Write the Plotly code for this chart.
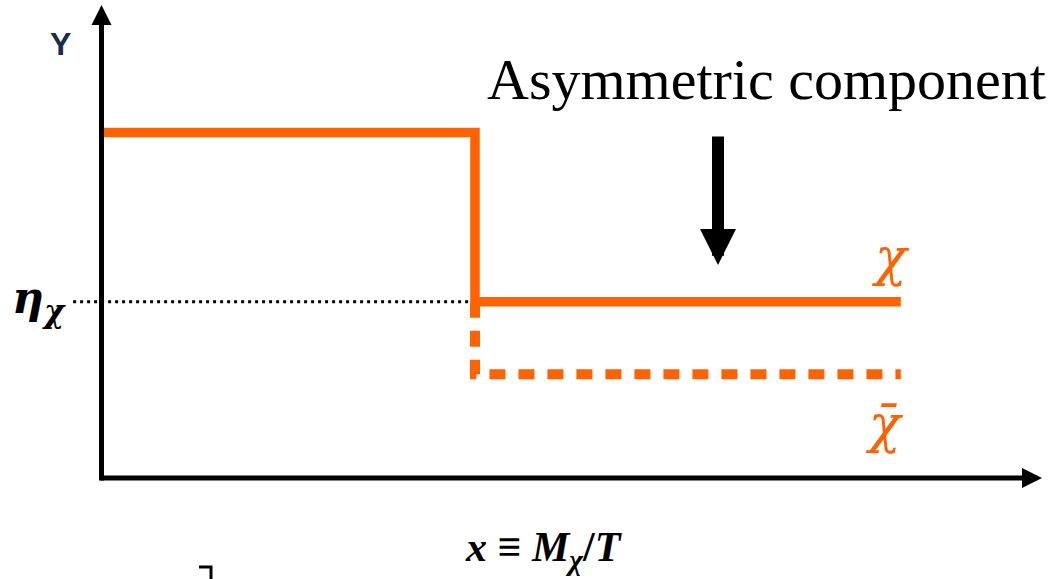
import plotly.graph_objects as go

# Step profile of the yield: particle (solid) and antiparticle (dashed)
x_start = 0.0
x_freeze = 1.0
x_end = 2.14
y_initial = 1.0
eta_chi = 0.51
y_bar = 0.30

chi_x = [x_start, x_freeze, x_freeze, x_end]
chi_y = [y_initial, y_initial, eta_chi, eta_chi]
chibar_x = [x_freeze, x_freeze, x_end]
chibar_y = [eta_chi, y_bar, y_bar]
ref_x = [-0.076, 0.99]
ref_y = [eta_chi, eta_chi]

W, H = 1064, 579
ORANGE = "#FF6200"
SERIF = "Liberation Serif"
GREEK = "DejaVu Serif"

# axis scale: origin at (101.5, 478) px, 373.5 px per x-unit, 345.5 px per y-unit
x0_px, sx = 101.5, 373.5
y0_px, sy = 478.0, 345.5
x_range = [-x0_px / sx, (W - x0_px) / sx]
y_range = [-(H - y0_px) / sy, y0_px / sy]


def px(x, y):
    return x / W, 1 - y / H


fig = go.Figure()
fig.add_trace(go.Scatter(x=ref_x, y=ref_y, mode="lines",
                         line=dict(color="black", width=3, dash="3px,4px")))
fig.add_trace(go.Scatter(x=chibar_x, y=chibar_y, mode="lines",
                         line=dict(color=ORANGE, width=10, dash="16px,13px")))
fig.add_trace(go.Scatter(x=chi_x, y=chi_y, mode="lines",
                         line=dict(color=ORANGE, width=9.5)))

annotations = []


def arrow(tip, tail, width, size):
    tx, ty = px(*tip)
    annotations.append(dict(x=tx, y=ty, xref="paper", yref="paper",
                            ax=tail[0] - tip[0], ay=tail[1] - tip[1],
                            axref="pixel", ayref="pixel", text="",
                            showarrow=True, arrowhead=2, arrowsize=size,
                            arrowwidth=width, arrowcolor="black", standoff=0))


def label(text, pos, size, color="black", family=SERIF, weight=None):
    lx, ly = px(*pos)
    annotations.append(dict(x=lx, y=ly, xref="paper", yref="paper",
                            text=text, showarrow=False,
                            xanchor="center", yanchor="middle",
                            font=dict(family=family, size=size, color=color,
                                      weight=weight)))


# axes with arrow heads
arrow((101.5, 5), (101.5, 482), 5, 0.8)
arrow((1042, 478), (99, 478), 5, 0.8)
# pointer to the asymmetric component
arrow((718, 265), (718, 135), 12, 0.6)

label("Asymmetric component", (766, 79), 58)
label("Y", (60, 44), 32, color="#1c2c4c", family="Liberation Sans", weight="bold")
label("<b><i>η</i></b><sub><b><i>χ</i></b></sub>", (39, 300), 44, family=GREEK)
label("<i>χ</i>", (890, 257), 52, color=ORANGE, family=GREEK)
label("<i>χ\u0304</i>", (884, 424), 52, color=ORANGE, family=GREEK)
label("<b><i>x</i> ≡ <i>M</i></b><sub><b><i>χ</i></b></sub><b>/<i>T</i></b>",
      (544, 550), 42)

# small corner mark below the plot
bx0, by0 = px(199, 567)
bx1, by1 = px(211, 567)
bx2, by2 = px(211, 579)
shapes = [dict(type="path", xref="paper", yref="paper",
               path=f"M {bx0} {by0} L {bx1} {by1} L {bx2} {by2}",
               line=dict(color="black", width=3))]

fig.update_layout(
    width=W, height=H,
    margin=dict(l=0, r=0, t=0, b=0),
    paper_bgcolor="white", plot_bgcolor="white",
    showlegend=False,
    xaxis=dict(range=x_range, visible=False, fixedrange=True),
    yaxis=dict(range=y_range, visible=False, fixedrange=True),
    annotations=annotations,
    shapes=shapes,
)

fig.write_html("out.html", config={"displayModeBar": False})
